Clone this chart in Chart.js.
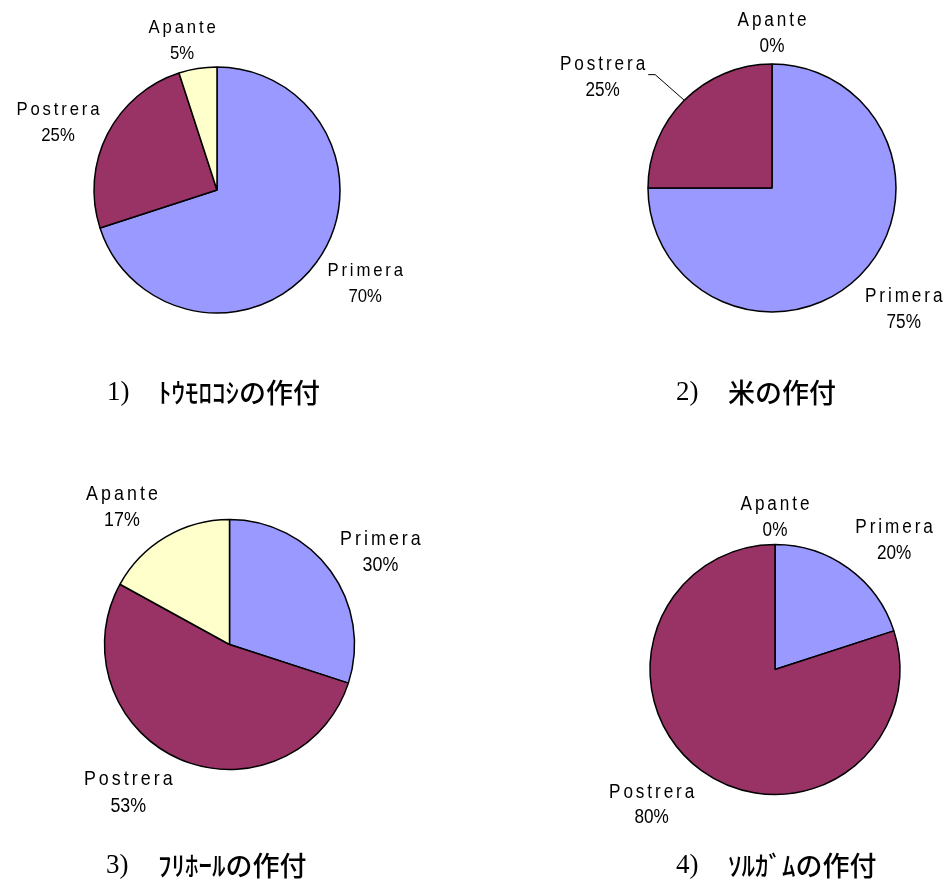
<!DOCTYPE html>
<html><head><meta charset="utf-8">
<script src="https://cdn.jsdelivr.net/npm/chart.js@4.4.0/dist/chart.umd.min.js"></script>
<style>
html,body{margin:0;padding:0;background:#fff;}
#page{position:relative;width:948px;height:886px;overflow:hidden;background:#fff;}
canvas.q{position:absolute;}
.cap{position:absolute;font-size:27px;line-height:27px;white-space:nowrap;color:#000;}
.num{font-family:"Liberation Serif","Times New Roman",serif;}
.jp{font-family:"Noto Sans CJK JP","Noto Sans CJK SC",sans-serif;font-weight:500;}
</style></head><body>
<div id="page"></div>
<script>
// ---- data ----
const categories = ['Primera', 'Postrera', 'Apante'];
const maizeValues = [70, 25, 5];
const riceValues = [75, 25, 0];
const beanValues = [30, 53, 17];
const sorghumValues = [20, 80, 0];
const captionNumbers = ['1)', '2)', '3)', '4)'];
const captionTexts = ['ﾄｳﾓﾛｺｼの作付', '米の作付', 'ﾌﾘﾎｰﾙの作付', 'ｿﾙｶﾞﾑの作付'];
const seriesList = [maizeValues, riceValues, beanValues, sorghumValues];

// ---- styles / layout ----
const sliceColors = ['#9999FF', '#993366', '#FFFFCC'];
const borderW = 1.5;
const layouts = [
  {box:[0,0,474,443],   cx:217,   cy:190,   r:123, font:19,   nudges:[[6,0],[1,3],[-8,5]],   leader:[false,false,false], cap:{y:378, nx:107, tx:158}},
  {box:[474,0,474,443], cx:772,   cy:188,   r:124, font:19.5, nudges:[[6,8],[-41,1],[0,3]],  leader:[false,true,false],  cap:{y:378, nx:676, tx:728}},
  {box:[0,443,474,443], cx:229.5, cy:644.5, r:125, font:20.3, nudges:[[5,1],[-28,0],[-18,0]], leader:[false,false,false], cap:{y:851, nx:106, tx:158}},
  {box:[474,443,474,443], cx:775, cy:669.5, r:125, font:19.5, nudges:[[14,-1],[-16,5],[0,7]], leader:[false,false,false], cap:{y:851, nx:676, tx:728}}
];
const textScaleX = 0.88;

function drawScaled(ctx, text, x, y, ls) {
  ctx.save();
  ctx.translate(x, y);
  ctx.scale(textScaleX, 1);
  ctx.letterSpacing = ls + 'px';
  ctx.fillText(text, 0, 0);
  ctx.restore();
}
function measureScaled(ctx, text, ls) {
  ctx.letterSpacing = ls + 'px';
  const w = (ctx.measureText(text).width - ls) * textScaleX;
  ctx.letterSpacing = '0px';
  return w;
}

const labelPlugin = {
  id: 'sliceLabels',
  afterDatasetsDraw(chart, args, opts) {
    const L = opts.layout;
    if (!L) return;
    const ctx = chart.ctx;
    const meta = chart.getDatasetMeta(0);
    const gap = 15;
    meta.data.forEach((arc, i) => {
      const p = arc.getProps(['x','y','startAngle','endAngle','outerRadius'], true);
      const mid = (p.startAngle + p.endAngle) / 2;
      const dx = Math.cos(mid), dy = Math.sin(mid);
      const fs = L.font;
      ctx.save();
      ctx.fillStyle = '#000';
      ctx.textAlign = 'left';
      ctx.textBaseline = 'alphabetic';
      ctx.font = fs + 'px "Liberation Sans", Arial, sans-serif';
      const ls = fs * 0.17;
      const name = chart.data.labels[i];
      const pct = chart.data.datasets[0].data[i] + '%';
      const w1 = measureScaled(ctx, name, ls);
      const w2 = measureScaled(ctx, pct, 0);
      const w = Math.max(w1, w2), h = fs * 2.04;
      const px = p.x + (p.outerRadius + gap) * dx, py = p.y + (p.outerRadius + gap) * dy;
      const bx = px + dx * w / 2 + L.nudges[i][0];
      const by = py + dy * h / 2 + L.nudges[i][1];
      drawScaled(ctx, name, bx - w1 / 2, by - 0.32 * fs, ls);
      drawScaled(ctx, pct, bx - w2 / 2, by + 1.0 * fs, 0);
      if (L.leader[i]) {
        const sx = bx + w / 2 + 3, sy = by - 2;
        ctx.strokeStyle = '#000';
        ctx.lineWidth = 1;
        ctx.beginPath();
        ctx.moveTo(sx, sy);
        ctx.lineTo(sx + 7, sy);
        ctx.lineTo(p.x + p.outerRadius * dx, p.y + p.outerRadius * dy);
        ctx.stroke();
      }
      ctx.restore();
    });
  }
};

const page = document.getElementById('page');
layouts.forEach((L, k) => {
  const [bxp, byp, bw, bh] = L.box;
  const cv = document.createElement('canvas');
  cv.className = 'q';
  cv.width = bw; cv.height = bh;
  cv.style.left = bxp + 'px'; cv.style.top = byp + 'px';
  cv.style.width = bw + 'px'; cv.style.height = bh + 'px';
  page.appendChild(cv);
  const side = 2 * L.r + borderW;
  const lx = L.cx - bxp, ly = L.cy - byp;
  const padding = {
    left: lx - side / 2,
    top: ly - side / 2,
    right: bw - lx - side / 2,
    bottom: bh - ly - side / 2
  };
  new Chart(cv, {
    type: 'pie',
    data: {
      labels: categories,
      datasets: [{
        data: seriesList[k],
        backgroundColor: sliceColors,
        borderColor: '#000',
        borderWidth: borderW,
        hoverOffset: 0
      }]
    },
    options: {
      responsive: false,
      animation: false,
      devicePixelRatio: 1,
      events: [],
      layout: { padding },
      plugins: {
        legend: { display: false },
        tooltip: { enabled: false },
        sliceLabels: { layout: L }
      }
    },
    plugins: [labelPlugin]
  });

  const n = document.createElement('div');
  n.className = 'cap num';
  n.textContent = captionNumbers[k];
  n.style.left = L.cap.nx + 'px'; n.style.top = L.cap.y + 'px';
  page.appendChild(n);
  const t = document.createElement('div');
  t.className = 'cap jp';
  t.textContent = captionTexts[k];
  t.style.left = L.cap.tx + 'px'; t.style.top = L.cap.y + 'px';
  page.appendChild(t);
});
</script>
</body></html>
